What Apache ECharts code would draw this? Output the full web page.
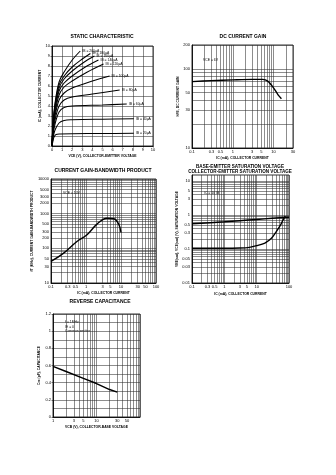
<!DOCTYPE html>
<html><head><meta charset="utf-8">
<script src="https://cdn.jsdelivr.net/npm/echarts@6/dist/echarts.min.js"></script>
<style>html,body{margin:0;padding:0;background:#fff}#c{width:336px;height:475px}</style>
</head><body><div id="c"></div>
<script>
// ---------- Chart 1: static characteristic (VCE V, IC mA) ----------
const staticNames = ['IB = 200µA','IB = 180µA','IB = 160µA','IB = 140µA','IB = 120µA','IB = 100µA','IB = 80µA','IB = 60µA','IB = 40µA','IB = 20µA'];
const ib200 = [[0,0],[0.1,2.2],[0.3,4.3],[0.7,6.4],[1.2,7.4],[2,8.6],[2.8,9.5]];
const ib180 = [[0,0],[0.1,2.1],[0.3,4.1],[0.7,6.1],[1.2,7.0],[2,7.9],[3,8.7],[3.8,9.25]];
const ib160 = [[0,0],[0.1,2.0],[0.3,3.9],[0.7,5.8],[1.2,6.7],[2,7.5],[3.2,8.4],[4.2,9.0]];
const ib140 = [[0,0],[0.1,1.9],[0.3,3.6],[0.7,5.5],[1.2,6.3],[2,7.0],[3.3,7.9],[4.6,8.6]];
const ib120 = [[0,0],[0.1,1.7],[0.3,3.3],[0.7,5.1],[1.2,5.9],[2,6.5],[3.5,7.4],[5.1,8.2]];
const ib100 = [[0,0],[0.1,1.5],[0.3,3.0],[0.7,4.6],[1.2,5.3],[2,5.8],[4,6.5],[5.7,7.0]];
const ib80  = [[0,0],[0.1,1.3],[0.3,2.6],[0.7,4.0],[1.2,4.6],[2,4.9],[4,5.2],[6.7,5.6]];
const ib60  = [[0,0],[0.1,1.1],[0.3,2.2],[0.7,3.4],[1.2,3.85],[2,4.0],[5,4.1],[7.4,4.2]];
const ib40  = [[0,0],[0.1,0.8],[0.3,1.6],[0.7,2.3],[1.2,2.55],[2,2.62],[5,2.68],[8.1,2.72]];
const ib20  = [[0,0],[0.1,0.5],[0.2,0.9],[0.4,1.15],[0.8,1.2],[2,1.23],[5,1.25],[8.1,1.27]];
const staticCurves = [ib200, ib180, ib160, ib140, ib120, ib100, ib80, ib60, ib40, ib20];

// ---------- Chart 2: DC current gain (IC mA, hFE) ----------
const gainIc  = [0.1, 0.3, 1, 3, 5.4, 7.2, 10, 12.9, 15.6];
const gainHfe = [69, 71, 72.5, 73.5, 73.5, 70, 57.5, 47, 42];
const gainYLabels = [10, 30, 50, 100, 200];
const gainXLabels = [0.1, 0.3, 0.5, 1, 3, 5, 10, 30];

// ---------- Chart 3: current gain-bandwidth product (IC mA, fT MHz) ----------
const ftIc  = [0.1, 0.23, 0.55, 1.07, 2.06, 3.98, 6.2, 8.6, 10];
const ftMhz = [42, 73, 158, 246, 498, 740, 713, 498, 286];
const ftYLabels = [10, 30, 50, 100, 200, 300, 500, 1000, 2000, 3000, 5000, 10000];
const ftXLabels = [0.1, 0.3, 0.5, 1, 3, 5, 10, 30, 50, 100];

// ---------- Chart 4: saturation voltages (IC mA, V) ----------
const vbeIc  = [0.1, 1, 3, 10, 30, 100];
const vbeSat = [0.55, 0.63, 0.68, 0.74, 0.8, 0.86];
const vceIc  = [0.1, 1, 3, 6, 10, 18, 28.6, 40, 55, 65, 77];
const vceSat = [0.105, 0.105, 0.107, 0.112, 0.125, 0.15, 0.206, 0.32, 0.51, 0.71, 0.93];
const satYLabels = [0.01, 0.03, 0.05, 0.1, 0.3, 0.5, 1, 3, 5, 10];
const satXLabels = [0.1, 0.3, 0.5, 1, 3, 5, 10, 100];

// ---------- Chart 5: reverse capacitance (VCB V, Cre pF) ----------
const capV  = [1, 2, 5, 10, 20, 30];
const capPf = [0.59, 0.53, 0.45, 0.39, 0.32, 0.29];
const capXLabels = [1, 3, 5, 10, 30, 50];

const FONT = '"Liberation Sans", Arial, sans-serif';
function logTicks(min, max) {
  const out = [];
  for (let e = -3; e <= 5; e++) for (let m = 1; m <= 9; m++) {
    const v = +(m * Math.pow(10, e)).toPrecision(3);
    if (v >= min * 0.9999 && v <= max * 1.0001) out.push(v);
  }
  return out;
}
const fmt = v => String(+(+v).toPrecision(3));
const gridLine = { show: true, lineStyle: { color: '#2e2e2e', width: 0.55 } };
const lbl = { fontSize: 4, margin: 2, color: '#000', fontFamily: FONT };
const nameStyle = { fontSize: 3.4, fontWeight: 'bold', color: '#000', fontFamily: FONT };

function logAxis(gi, min, max, labels, name, gap) {
  return {
    type: 'log', logBase: 10, gridIndex: gi, min, max,
    name, nameLocation: 'middle', nameGap: gap, nameTextStyle: nameStyle,
    axisLine: { show: true, lineStyle: { color: '#000', width: 0.8 } },
    axisTick: { show: false, customValues: logTicks(min, max) },
    axisLabel: Object.assign({ customValues: labels, formatter: fmt }, lbl),
    splitLine: gridLine
  };
}
function valAxis(gi, min, max, interval, name, gap, extra) {
  return Object.assign({
    type: 'value', gridIndex: gi, min, max, interval,
    name, nameLocation: 'middle', nameGap: gap, nameTextStyle: nameStyle,
    axisLine: { show: true, lineStyle: { color: '#000', width: 0.8 } },
    axisTick: { show: true, length: 1.5, lineStyle: { color: '#000', width: 0.5 } },
    axisLabel: Object.assign({ formatter: fmt }, lbl),
    splitLine: gridLine
  }, extra || {});
}
const lineBase = { type: 'line', showSymbol: false, symbol: 'none', lineStyle: { color: '#000', width: 1.4 }, itemStyle: { color: '#000' }, silent: true };
const zip = (a, b) => a.map((x, i) => [x, b[i]]);

const grids = [
  { left: 52, top: 46, width: 101, height: 100 },
  { left: 192, top: 45, width: 101, height: 103 },
  { left: 51, top: 179, width: 105, height: 104 },
  { left: 192, top: 175, width: 97, height: 108 },
  { left: 53, top: 314, width: 87, height: 103 }
].map(g => Object.assign({ show: true, borderColor: '#000', borderWidth: 0.8, backgroundColor: '#fff' }, g));

const series = [];
staticCurves.forEach((c, i) => series.push(Object.assign({}, lineBase, {
  name: staticNames[i], xAxisIndex: 0, yAxisIndex: 0, data: c, smooth: 0.35,
  lineStyle: { color: '#000', width: 1.05 },
  endLabel: { show: true, formatter: staticNames[i], fontSize: 3.4, color: '#000', distance: 2, fontFamily: FONT }
})));
series.push(Object.assign({}, lineBase, { xAxisIndex: 1, yAxisIndex: 1, data: zip(gainIc, gainHfe), smooth: 0.3 }));
series.push(Object.assign({}, lineBase, { xAxisIndex: 2, yAxisIndex: 2, data: zip(ftIc, ftMhz), smooth: 0.4 }));
series.push(Object.assign({}, lineBase, { xAxisIndex: 3, yAxisIndex: 3, smooth: 0.3,
  data: zip(vbeIc, vbeSat).map((p, i) => i === 2 ? { value: p, label: { show: true, position: 'top', formatter: 'VBE (sat)', fontSize: 3.4, color: '#000', distance: 1.5 } } : p) }));
series.push(Object.assign({}, lineBase, { xAxisIndex: 3, yAxisIndex: 3, smooth: 0.3,
  data: zip(vceIc, vceSat).map((p, i) => i === 2 ? { value: p, label: { show: true, position: 'top', formatter: 'VCE (sat)', fontSize: 3.4, color: '#000', distance: 1.5 } } : p) }));
series.push(Object.assign({}, lineBase, { xAxisIndex: 4, yAxisIndex: 4, data: zip(capV, capPf) }));

function txt(x, y, text, size, bold) {
  return { type: 'text', x, y, silent: true, style: { text, fill: '#000', font: (bold ? 'bold ' : '') + size + 'px ' + FONT, align: 'center', verticalAlign: 'middle' } };
}
function note(x, y, text) {
  return { type: 'text', x, y, silent: true, style: { text, fill: '#000', font: '3.4px ' + FONT, align: 'left', verticalAlign: 'middle', lineHeight: 4.5 } };
}

const option = {
  animation: false,
  backgroundColor: '#fff',
  textStyle: { fontFamily: FONT },
  grid: grids,
  xAxis: [
    valAxis(0, 0, 10, 1, 'VCE (V), COLLECTOR-EMITTER VOLTAGE', 9),
    logAxis(1, 0.1, 30, gainXLabels, 'IC (mA), COLLECTOR CURRENT', 9),
    logAxis(2, 0.1, 100, ftXLabels, 'IC (mA), COLLECTOR CURRENT', 9),
    logAxis(3, 0.1, 100, satXLabels, 'IC (mA), COLLECTOR CURRENT', 10),
    logAxis(4, 1, 100, capXLabels, 'VCB (V), COLLECTOR-BASE VOLTAGE', 9)
  ],
  yAxis: [
    valAxis(0, 0, 10, 1, 'IC (mA), COLLECTOR CURRENT', 10),
    logAxis(1, 10, 200, gainYLabels, 'hFE, DC CURRENT GAIN', 10),
    logAxis(2, 10, 10000, ftYLabels, 'fT (MHz), CURRENT GAIN-BANDWIDTH PRODUCT', 14),
    logAxis(3, 0.01, 15, satYLabels, 'VBE(sat), VCE(sat) (V), SATURATION VOLTAGE', 12),
    valAxis(4, 0, 1.2, 0.2, 'Cre (pF), CAPACITANCE', 12, { minorTick: { show: false, splitNumber: 2 }, minorSplitLine: { show: true, lineStyle: { color: '#2e2e2e', width: 0.55 } } })
  ],
  series,
  graphic: [
    txt(102, 37, 'STATIC CHARACTERISTIC', 5, true),
    txt(243, 37, 'DC CURRENT GAIN', 5, true),
    txt(103, 171, 'CURRENT GAIN-BANDWIDTH PRODUCT', 5, true),
    txt(240, 166.5, 'BASE-EMITTER SATURATION VOLTAGE', 4.6, true),
    txt(240, 171.5, 'COLLECTOR-EMITTER SATURATION VOLTAGE', 4.6, true),
    txt(100, 302, 'REVERSE CAPACITANCE', 5, true),
    note(203, 60, 'VCE = 6V'),
    note(63, 193, 'VCE = 10V'),
    note(204, 193, 'IC = 10 IB'),
    note(65, 327, 'f = 1MHz\nIE = 0\nCommon emitter')
  ]
};
echarts.init(document.getElementById('c'), null, { renderer: 'canvas' }).setOption(option);
</script></body></html>
